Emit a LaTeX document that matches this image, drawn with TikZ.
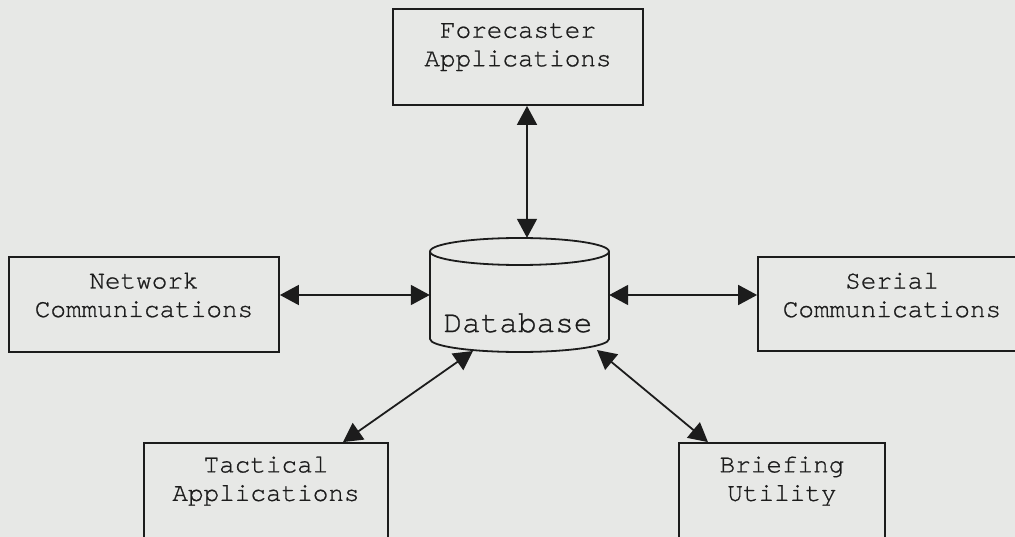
\documentclass[tikz,border=0pt]{standalone}
\usepackage{fontspec}
\setmonofont{TeX Gyre Cursor}[Ligatures={NoCommon}, FakeBold=0.8]
\usetikzlibrary{arrows.meta,calc}

\definecolor{paper}{RGB}{231,232,230}
\definecolor{ink}{RGB}{28,28,28}

\tikzset{
  modbox/.style={draw=ink, line width=1.8pt, rectangle, inner sep=0pt},
  modtext/.style={font=\ttfamily\fontsize{26}{28.5}\selectfont, text=ink, align=center, inner sep=0pt},
  dbtext/.style={font=\ttfamily\fontsize{31}{34}\selectfont, text=ink, inner sep=0pt},
  link/.style={draw=ink, line width=1.8pt, {Triangle[length=19pt,width=20pt]}-{Triangle[length=19pt,width=20pt]}},
}

\begin{document}
\begin{tikzpicture}[x=1pt, y=-1pt]
  % canvas
  \fill[paper] (0,0) rectangle (1015,537);
  \useasboundingbox (0,0) rectangle (1015,537);

  % module boxes
  \node[modbox, minimum width=250pt, minimum height=96pt] (fa) at (518,57) {};
  \node[modbox, minimum width=270pt, minimum height=95pt] (nc) at (144,304.5) {};
  \node[modbox, minimum width=268pt, minimum height=94pt] (sc) at (892,304) {};
  \node[modbox, minimum width=244pt, minimum height=100pt] (ta) at (266,493) {};
  \node[modbox, minimum width=206pt, minimum height=100pt] (bu) at (782,493) {};

  % box captions
  \node[modtext] at ($(fa.north)+(0,39)$) {Forecaster\\Applications};
  \node[modtext] at ($(nc.north)+(0,39)$) {Network\\Communications};
  \node[modtext] at ($(sc.north)+(0,39)$) {Serial\\Communications};
  \node[modtext] at ($(ta.north)+(0,39)$) {Tactical\\Applications};
  \node[modtext] at ($(bu.north)+(0,39)$) {Briefing\\Utility};

  % database cylinder
  \draw[ink, line width=1.8pt]
    (430,251.5) -- (430,339)
    arc[start angle=180, end angle=360, x radius=89.5pt, y radius=13pt]
    -- (609,251.5);
  \draw[ink, line width=1.8pt] (519.5,251.5) ellipse[x radius=89.5pt, y radius=13.5pt];
  \node[inner sep=0pt, minimum width=179pt, minimum height=114pt] (db) at (519.5,295) {};
  \node[dbtext] (dbl) at (518,323) {Database};

  % attachment points on the cylinder base and on the lower boxes
  \coordinate (dbsw) at (473,351);
  \coordinate (dbse) at (597,350);
  \coordinate (tatop) at ([xshift=77pt]ta.north);
  \coordinate (butop) at ([xshift=-74pt]bu.north);

  % connectors
  \draw[link] (fa.south -| 527,0) -- (db.north -| 527,0);
  \draw[link] (nc.east |- db.west) -- (db.west);
  \draw[link] (db.east) -- (sc.west |- db.east);
  \draw[link] (dbsw) -- (tatop);
  \draw[link] (dbse) -- (butop);
\end{tikzpicture}
\end{document}
